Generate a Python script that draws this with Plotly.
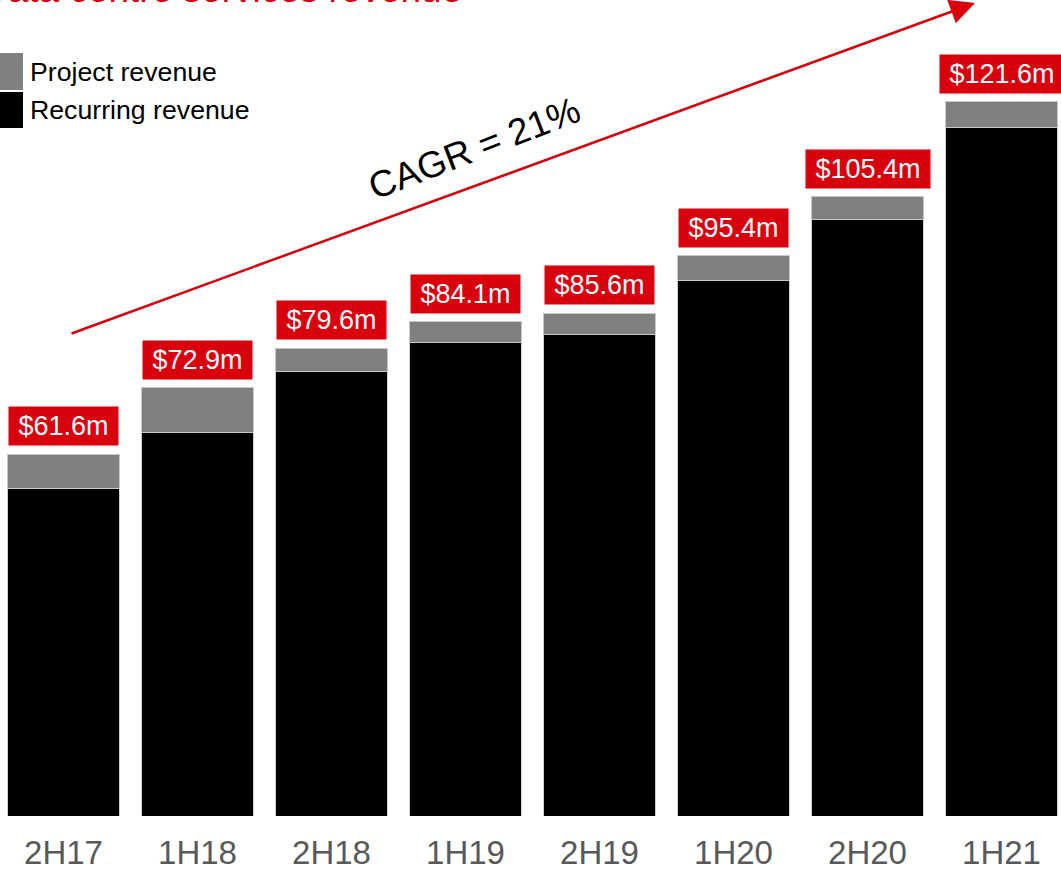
import plotly.graph_objects as go

# half-year periods
periods = ['2H17', '1H18', '2H18', '1H19', '2H19', '1H20', '2H20', '1H21']
# $m
recurring = [55.7, 65.2, 75.6, 80.6, 81.9, 91.2, 101.5, 117.2]
project = [5.9, 7.7, 4.0, 3.5, 3.7, 4.2, 3.9, 4.4]
totals = [61.6, 72.9, 79.6, 84.1, 85.6, 95.4, 105.4, 121.6]
total_labels = ['$61.6m', '$72.9m', '$79.6m', '$84.1m', '$85.6m', '$95.4m', '$105.4m', '$121.6m']

RED = '#D9000D'
FONT = 'Arial, Liberation Sans, sans-serif'
W, H = 1061, 869
PLOT_H = 816  # plot area height in px (top margin 0)


def py(px):
    # pixel row -> paper y
    return 1 - px / PLOT_H


fig = go.Figure()

fig.add_trace(go.Bar(
    x=periods, y=recurring, name='Recurring revenue',
    marker=dict(color='#000000', line=dict(color='#d0d0d0', width=1)),
    showlegend=False,
))
fig.add_trace(go.Bar(
    x=periods, y=project, name='Project revenue',
    marker=dict(color='#808080', line=dict(color='#c8c8c8', width=1)),
    showlegend=False,
))

# red value boxes above each bar
thin = '\u2009'
for p, t, lab in zip(periods, totals, total_labels):
    fig.add_annotation(
        x=p, y=t, xref='x', yref='y', text=thin + lab + thin, showarrow=False,
        yanchor='bottom', yshift=8,
        font=dict(family=FONT, size=27, color='white'),
        bgcolor=RED, borderpad=4,
    )

# growth arrow
fig.add_annotation(
    x=975 / W, y=py(3), xref='paper', yref='paper',
    ax=70 - 975, ay=334 - 3, axref='pixel', ayref='pixel',
    text='', showarrow=True, arrowhead=2, arrowsize=2.0,
    arrowwidth=2.5, arrowcolor=RED, standoff=0,
)
fig.add_annotation(
    x=474 / W, y=py(87), xref='paper', yref='paper',
    text='CAGR = 21%', showarrow=False, textangle=-21,
    font=dict(family=FONT, size=37, color='black'),
)

# title, clipped by the top/left edge in the original
fig.add_annotation(
    x=464 / W, y=py(12), xref='paper', yref='paper',
    text='Data centre services revenue', showarrow=False,
    xanchor='right', yanchor='bottom',
    font=dict(family=FONT, size=37, color=RED),
)

# legend drawn by hand so the swatches are big like the original
legend_items = [('Project revenue', '#808080', 53, 90), ('Recurring revenue', '#000000', 92, 128)]
for name, col, top, bot in legend_items:
    fig.add_shape(type='rect', xref='paper', yref='paper',
                  x0=-0.01, x1=23 / W, y0=py(bot), y1=py(top),
                  fillcolor=col, line=dict(width=0))
    fig.add_annotation(x=28 / W, y=py((top + bot) / 2), xref='paper', yref='paper',
                       text=name, showarrow=False, xanchor='left', yanchor='middle',
                       font=dict(family=FONT, size=26.7, color='black'))

fig.update_layout(
    width=W, height=H,
    margin=dict(l=0, r=0, t=0, b=H - PLOT_H),
    barmode='stack', bargap=0.17,
    plot_bgcolor='white', paper_bgcolor='white',
    xaxis=dict(range=[-0.474, 7.444], showgrid=False, zeroline=False, showline=False,
               tickfont=dict(family=FONT, size=33, color='#595959'),
               ticklabelstandoff=14, automargin=False),
    yaxis=dict(range=[0, PLOT_H / 5.875], visible=False, automargin=False),
)

# page body has an 8px default margin; drop it so the figure sits at the window corner
fig.write_html('out.html', config={'displayModeBar': False},
               post_script="document.body.style.margin='0';document.body.style.overflow='hidden';")
